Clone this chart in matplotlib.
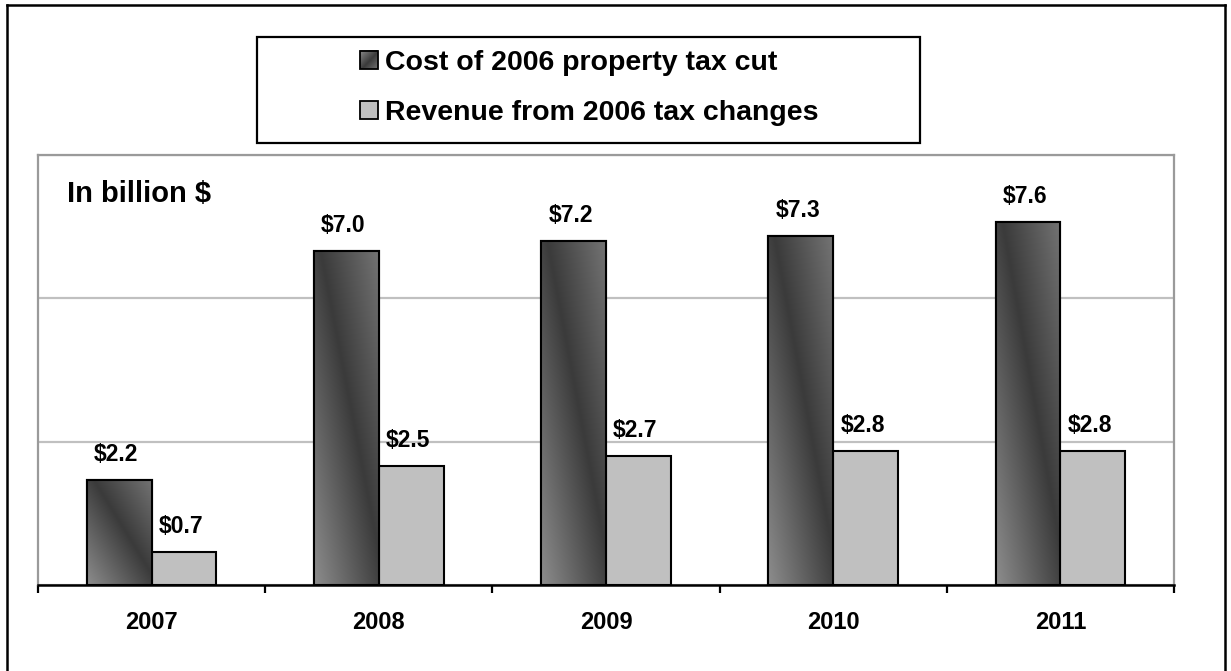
import numpy as np
import matplotlib
matplotlib.use("Agg")
import matplotlib.pyplot as plt
from matplotlib.patches import Rectangle, Patch
from matplotlib.legend_handler import HandlerBase
from matplotlib.image import BboxImage
from matplotlib.transforms import Bbox, TransformedBbox
from matplotlib.lines import Line2D

years = ["2007", "2008", "2009", "2010", "2011"]
cost = [2.2, 7.0, 7.2, 7.3, 7.6]
revenue = [0.7, 2.5, 2.7, 2.8, 2.8]
cost_labels = ["$2.2", "$7.0", "$7.2", "$7.3", "$7.6"]
rev_labels = ["$0.7", "$2.5", "$2.7", "$2.8", "$2.8"]
series_names = ["Cost of 2006 property tax cut", "Revenue from 2006 tax changes"]

plt.rcParams['font.family'] = ['Liberation Sans', 'DejaVu Sans']
plt.rcParams['font.weight'] = 'bold'

W, H = 1231, 671
fig = plt.figure(figsize=(W / 100, H / 100), dpi=100)
fig.patch.set_facecolor('white')


def fx(px):
    return px / W


def fy(py):
    return 1 - py / H


# gradient image for dark bars (diagonal in normalized box coordinates)
def grad_array(n=64):
    u = np.linspace(0, 1, n)[None, :]
    v = np.linspace(0, 1, n)[:, None]
    t = (u + v) / 2.0
    stops_t = [0.0, 0.55, 1.0]
    stops_g = [0.55, 0.23, 0.45]
    g = np.interp(t, stops_t, stops_g)
    return np.dstack([g, g, g])


GRAD = grad_array()

# outer border
fig.add_artist(Line2D([fx(7), fx(7)], [fy(5), fy(H + 5)], color='black', lw=1.8, transform=fig.transFigure))
fig.add_artist(Line2D([fx(7), fx(1225)], [fy(5), fy(5)], color='black', lw=1.8, transform=fig.transFigure))
fig.add_artist(Line2D([fx(1225), fx(1225)], [fy(5), fy(H + 5)], color='black', lw=1.8, transform=fig.transFigure))

ax = fig.add_axes([fx(38), fy(585), fx(1174) - fx(38), (585 - 155) / H])
x = np.arange(len(years))
bw = 0.285

ax.set_xlim(-0.5, len(years) - 0.5)
ax.set_ylim(0, 9)
ax.set_yticks([0, 3, 6, 9])
ax.yaxis.grid(True, color='#c0c0c0', lw=1.6)
ax.set_axisbelow(True)
ax.tick_params(axis='y', left=False, labelleft=False)

dark_bars = ax.bar(x - bw / 2, cost, bw, color='#555555', edgecolor='black', linewidth=1.5, zorder=3)
light_bars = ax.bar(x + bw / 2, revenue, bw, color='#c0c0c0', edgecolor='black', linewidth=1.5, zorder=3)

for b in dark_bars:
    x0, y0 = b.get_x(), b.get_y()
    w, h = b.get_width(), b.get_height()
    im = ax.imshow(GRAD, extent=[x0, x0 + w, y0 + h, y0], aspect='auto',
                   interpolation='bilinear', zorder=3.5, origin='upper')
    im.set_clip_path(b)
    ax.add_patch(Rectangle((x0, y0), w, h, fill=False, edgecolor='black', lw=1.5, zorder=4))

ax.set_xlim(-0.5, len(years) - 0.5)
ax.set_ylim(0, 9)

for xi, v, lab in zip(x - bw / 2, cost, cost_labels):
    ax.annotate(lab, (xi, v), xytext=(-3, 19), textcoords='offset pixels',
                ha='center', va='baseline', fontsize=16.5, fontweight='bold')
for xi, v, lab in zip(x + bw / 2, revenue, rev_labels):
    ax.annotate(lab, (xi, v), xytext=(-3, 19), textcoords='offset pixels',
                ha='center', va='baseline', fontsize=16.5, fontweight='bold')

# x axis: ticks at category boundaries, labels at centers
ax.set_xticks(np.arange(-0.5, len(years), 1.0))
ax.set_xticklabels([])
ax.tick_params(axis='x', which='major', direction='out', length=5.5, width=1.6, color='black')
ax.set_xticks(x, minor=True)
ax.set_xticklabels(years, minor=True, fontsize=17, fontweight='bold')
ax.tick_params(axis='x', which='minor', length=0, pad=19)

for s in ['left', 'top', 'right']:
    ax.spines[s].set_color('#9a9a9a')
    ax.spines[s].set_linewidth(1.6)
ax.spines['bottom'].set_color('black')
ax.spines['bottom'].set_linewidth(1.8)

ax.text(fx(67), fy(202), "In billion $", transform=fig.transFigure, fontsize=21,
        fontweight='bold', ha='left', va='baseline')


# legend
class GradHandler(HandlerBase):
    def create_artists(self, legend, orig_handle, xdescent, ydescent, width, height, fontsize, trans):
        bb = Bbox.from_bounds(-xdescent, -ydescent, width, height)
        img = BboxImage(TransformedBbox(bb, trans), interpolation='bilinear')
        img.set_data(GRAD)
        r = Rectangle((-xdescent, -ydescent), width, height, fill=False,
                      edgecolor='black', lw=1.3, transform=trans)
        return [img, r]


class BoxHandler(HandlerBase):
    def create_artists(self, legend, orig_handle, xdescent, ydescent, width, height, fontsize, trans):
        r = Rectangle((-xdescent, -ydescent), width, height, facecolor='#c0c0c0',
                      edgecolor='black', lw=1.3, transform=trans)
        return [r]


h1 = Patch(facecolor='#555555')
h2 = Patch(facecolor='#c0c0c0')
fig.add_artist(Rectangle((fx(257), fy(143)), fx(920) - fx(257), (143 - 37) / H, fill=False,
                         edgecolor='black', lw=1.6, transform=fig.transFigure))
leg = fig.legend([h1, h2], series_names, loc='center',
                 bbox_to_anchor=(fx(589), fy(88)),
                 handler_map={h1: GradHandler(), h2: BoxHandler()},
                 frameon=False, prop={'size': 20.5, 'weight': 'bold'},
                 handlelength=0.62, handleheight=0.62, handletextpad=0.25,
                 labelspacing=0.85, borderpad=0)

fig.savefig("out.png", dpi=100, facecolor='white')
